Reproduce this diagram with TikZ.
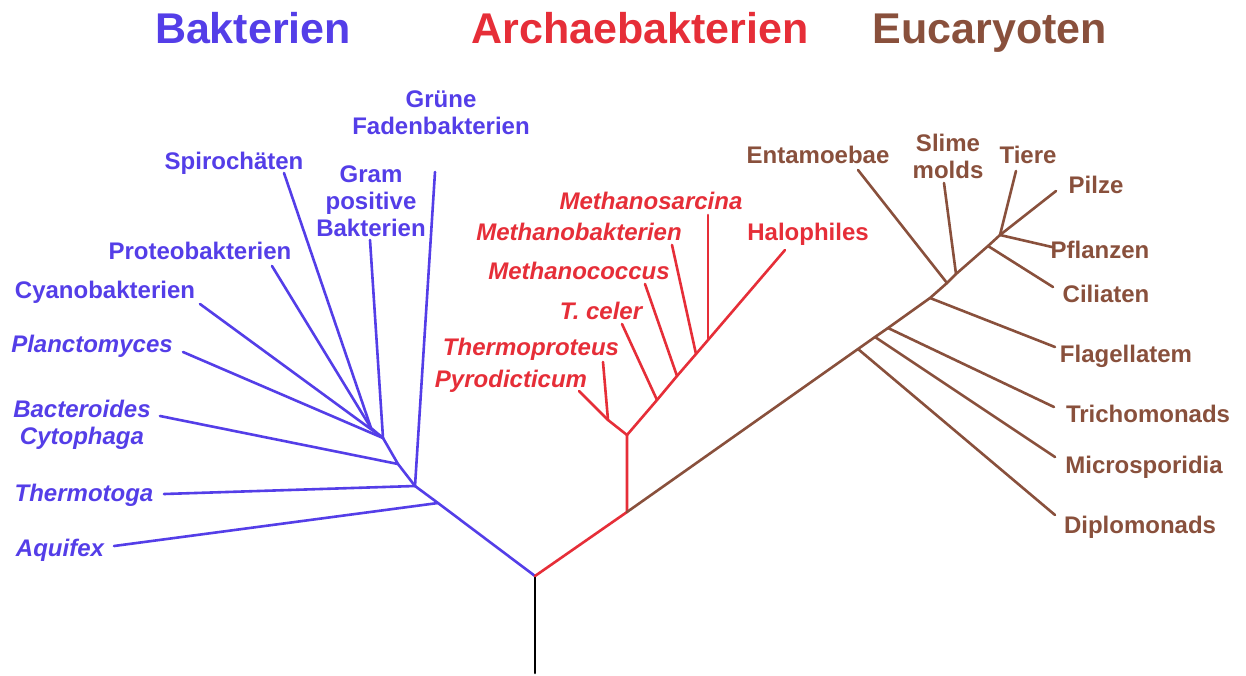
\documentclass[tikz,border=0pt]{standalone}
\usepackage{fontspec}
\setmainfont{Liberation Sans}
\definecolor{bac}{RGB}{84,62,232}
\definecolor{arc}{RGB}{230,46,56}
\definecolor{euk}{RGB}{137,80,60}
\begin{document}
\begin{tikzpicture}[x=1pt,y=-1pt,
  lbl/.style={font=\fontsize{24}{27}\selectfont\bfseries, inner sep=0pt, align=center},
  ilbl/.style={lbl, font=\fontsize{24}{27}\selectfont\bfseries\itshape},
  ttl/.style={font=\fontsize{43}{50}\selectfont\bfseries, inner sep=0pt, anchor=base},
  branch/.style={line width=2.6pt, line cap=round, line join=round}]
\useasboundingbox (0,0) rectangle (1246,675);
\fill[white] (0,0) rectangle (1246,675);

% titles
\node[ttl, text=bac] (tB) at (253,43) {Bakterien};
\node[ttl, text=arc] (tA) at (640,43) {Archaebakterien};
\node[ttl, text=euk] (tE) at (990,43) {Eucaryoten};

% ---------- Bacteria labels ----------
\begin{scope}[every node/.append style={text=bac}]
\node[lbl, anchor=base] (spiro) at (234,169) {Spiroch\"aten};
\node[lbl] (gruene) at (441,113) {Gr\"une\\Fadenbakterien};
\node[lbl] (gram) at (371,201) {Gram\\positive\\Bakterien};
\node[lbl, anchor=base] (proteo) at (200,259) {Proteobakterien};
\node[lbl, anchor=base] (cyano) at (105,298) {Cyanobakterien};
\node[ilbl, anchor=base] (planc) at (92,352) {Planctomyces};
\node[ilbl] (bacter) at (82,425) {Bacteroides\\Cytophaga};
\node[ilbl, anchor=base] (thermotoga) at (84,501) {Thermotoga};
\node[ilbl, anchor=base] (aquifex) at (60,556) {Aquifex};
\end{scope}

% ---------- Archaea labels ----------
\begin{scope}[every node/.append style={text=arc}]
\node[ilbl, anchor=base] (msarc) at (651,209) {Methanosarcina};
\node[ilbl, anchor=base] (mbakt) at (579,240) {Methanobakterien};
\node[lbl, anchor=base] (halo) at (808,240) {Halophiles};
\node[ilbl, anchor=base] (mcoc) at (579,279) {Methanococcus};
\node[ilbl, anchor=base] (tceler) at (601,319) {T. celer};
\node[ilbl, anchor=base] (thermop) at (531,355) {Thermoproteus};
\node[ilbl, anchor=base] (pyro) at (511,387) {Pyrodicticum};
\end{scope}

% ---------- Eukaryote labels ----------
\begin{scope}[every node/.append style={text=euk}]
\node[lbl, anchor=base] (entam) at (818,163) {Entamoebae};
\node[lbl] (slime) at (948,156) {Slime\\molds};
\node[lbl, anchor=base] (tiere) at (1028,163) {Tiere};
\node[lbl, anchor=base] (pilze) at (1096,193) {Pilze};
\node[lbl, anchor=base] (pflanzen) at (1100,258) {Pflanzen};
\node[lbl, anchor=base] (cilia) at (1106,302) {Ciliaten};
\node[lbl, anchor=base] (flag) at (1126,362) {Flagellatem};
\node[lbl, anchor=base] (tricho) at (1148,422) {Trichomonads};
\node[lbl, anchor=base] (micro) at (1144,473) {Microsporidia};
\node[lbl, anchor=base] (diplo) at (1140,533) {Diplomonads};
\end{scope}

% ---------- coordinates ----------
\coordinate (rootbot) at (535,673);
\coordinate (root) at (535,576);
% bacteria
\coordinate (b1) at (438,503);
\coordinate (b2) at (415,486);
\coordinate (b3) at (398,464);
\coordinate (b4) at (383,438);
\coordinate (b5) at (371,428);
\coordinate (eAqu) at (114,546);
\coordinate (eThe) at (164,494);
\coordinate (eGru) at (435,172);
\coordinate (eBac) at (160,416);
\coordinate (eGra) at (370,240);
\coordinate (ePla) at (183,352);
\coordinate (eCya) at (200,304);
\coordinate (eSpi) at (284,173);
\coordinate (ePro) at (272,266);
% archaea
\coordinate (a0) at (627,512);
\coordinate (a1) at (627,435);
\coordinate (ap) at (608,420);
\coordinate (aT) at (657,400);
\coordinate (aC) at (677,376);
\coordinate (aB) at (696,354);
\coordinate (aS) at (708,340);
\coordinate (ePyr) at (579,391);
\coordinate (eThp) at (603,362);
\coordinate (eTce) at (622,324);
\coordinate (eMco) at (645,284);
\coordinate (eMba) at (672,245);
\coordinate (eMsa) at (708,215);
\coordinate (eHal) at (785,250);
% eukaryotes
\coordinate (k1) at (858,349);
\coordinate (k2) at (875,337);
\coordinate (k3) at (888,328);
\coordinate (k4) at (930,298);
\coordinate (k5) at (947,283);
\coordinate (k6) at (956,274);
\coordinate (k7) at (988,246);
\coordinate (hub) at (1000,235);
\coordinate (eDip) at (1055,515);
\coordinate (eMic) at (1055,457);
\coordinate (eTri) at (1054,407);
\coordinate (eFla) at (1055,347);
\coordinate (eEnt) at (858,170);
\coordinate (eSli) at (944,183);
\coordinate (eCil) at (1053,287);
\coordinate (ePfl) at (1052,247);
\coordinate (ePil) at (1056,191);
\coordinate (eTie) at (1016,171);

% ---------- branches ----------
\draw[branch, black] (rootbot) -- (root);

\begin{scope}[bac]
\draw[branch] (root) -- (b1) -- (b2);
\draw[branch] (b1) -- (eAqu);
\draw[branch] (b2) -- (eThe);
\draw[branch] (b2) -- (eGru);
\draw[branch] (b2) -- (b3) -- (b4);
\draw[branch] (b3) -- (eBac);
\draw[branch] (b4) -- (eGra);
\draw[branch] (b4) -- (ePla);
\draw[branch] (b4) -- (eCya);
\draw[branch] (b4) -- (b5) -- (eSpi);
\draw[branch] (b5) -- (ePro);
\end{scope}

\begin{scope}[arc]
\draw[branch] (root) -- (a0) -- (a1);
\draw[branch] (a1) -- (ap) -- (ePyr);
\draw[branch] (ap) -- (eThp);
\draw[branch] (a1) -- (aT) -- (aC) -- (aB) -- (aS) -- (eHal);
\draw[branch] (aT) -- (eTce);
\draw[branch] (aC) -- (eMco);
\draw[branch] (aB) -- (eMba);
\draw[branch] (aS) -- (eMsa);
\end{scope}

\begin{scope}[euk]
\draw[branch] (a0) -- (k1) -- (k2) -- (k3) -- (k4) -- (k5) -- (k6) -- (k7) -- (hub);
\draw[branch] (k1) -- (eDip);
\draw[branch] (k2) -- (eMic);
\draw[branch] (k3) -- (eTri);
\draw[branch] (k4) -- (eFla);
\draw[branch] (k5) -- (eEnt);
\draw[branch] (k6) -- (eSli);
\draw[branch] (k7) -- (eCil);
\draw[branch] (hub) -- (ePfl);
\draw[branch] (hub) -- (ePil);
\draw[branch] (hub) -- (eTie);
\end{scope}
\end{tikzpicture}
\end{document}
